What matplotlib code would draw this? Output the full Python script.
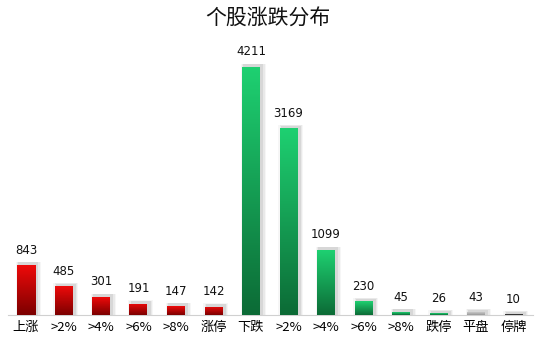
import matplotlib.pyplot as plt
import matplotlib.colors as mcolors
from matplotlib.patches import Rectangle
import numpy as np

plt.rcParams['font.family'] = ['Noto Sans CJK SC', 'DejaVu Sans']

categories = ['上涨', '>2%', '>4%', '>6%', '>8%', '涨停', '下跌', '>2%', '>4%', '>6%', '>8%', '跌停', '平盘', '停牌']
counts = [843, 485, 301, 191, 147, 142, 4211, 3169, 1099, 230, 45, 26, 43, 10]
groups = ['up'] * 6 + ['down'] * 6 + ['flat', 'halt']

# gradient colours (top, bottom)
grad = {
    'up': ('#ee0a0a', '#7c0000'),
    'down': ('#1ed071', '#0c6b36'),
    'flat': ('#c8c8c8', '#9a9a9a'),
    'halt': ('#555555', '#222222'),
}

fig = plt.figure(figsize=(5.35, 3.44), dpi=100)
ax = fig.add_axes([8 / 535, 1 - 315 / 344, 525 / 535, 265 / 344])
ax.set_xlim(-0.48, 13.52)
ax.set_ylim(0, 4500)

width = 0.48
x = np.arange(len(categories))
bars = ax.bar(x, counts, width=width, color='none', zorder=3)

for xi, val, g, bar in zip(x, counts, groups, bars):
    # soft shadow offset to the upper right
    for k, a in enumerate([0.12, 0.08, 0.05]):
        pad = 0.03 * (k + 1)
        ax.add_patch(Rectangle((xi - width / 2 + 0.06 - pad, 0), width + 2 * pad,
                               val + 45 + pad * 120, facecolor='#555555',
                               alpha=a, edgecolor='none', zorder=1))
    top, bot = grad[g]
    cmap = mcolors.LinearSegmentedColormap.from_list(g, [bot, top])
    img = ax.imshow(np.linspace(0, 1, 100).reshape(-1, 1), cmap=cmap, aspect='auto',
                    origin='lower', extent=[xi - width / 2, xi + width / 2, 0, val], zorder=3)
    img.set_clip_path(bar)
    ax.text(xi, val + 150, str(val), ha='center', va='bottom', fontsize=8.5, color='#111111',
            family=['DejaVu Sans'])

ax.set_xticks(x)
ax.set_xticklabels(categories, fontsize=9.5)
ax.tick_params(axis='x', length=0, pad=4)
ax.set_yticks([])
for s in ['top', 'right', 'left']:
    ax.spines[s].set_visible(False)
ax.spines['bottom'].set_color('#d0d0d0')

fig.text(0.5, 0.945, '个股涨跌分布', ha='center', va='center', fontsize=15, color='#111111')

fig.savefig('out.png', dpi=100)
